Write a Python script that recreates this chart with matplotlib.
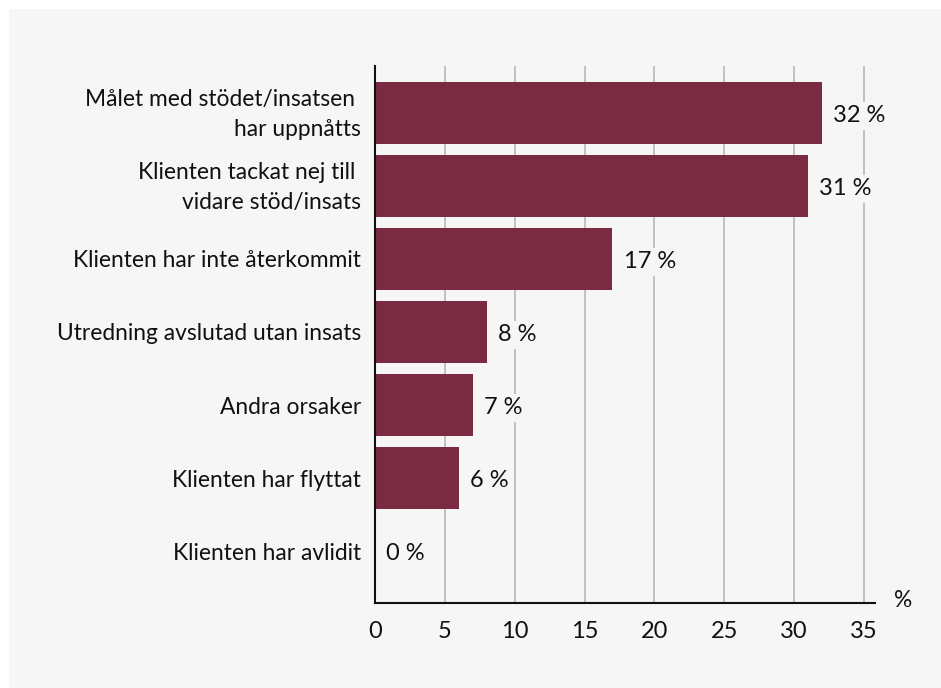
import matplotlib.pyplot as plt
from matplotlib.patches import Rectangle
from matplotlib.transforms import ScaledTranslation

plt.rcParams['font.family'] = ['Lato', 'DejaVu Sans']

categories = [
    "Målet med stödet/insatsen \nhar uppnåtts",
    "Klienten tackat nej till \nvidare stöd/insats",
    "Klienten har inte återkommit",
    "Utredning avslutad utan insats",
    "Andra orsaker",
    "Klienten har flyttat",
    "Klienten har avlidit",
]
values = [32, 31, 17, 8, 7, 6, 0]
value_labels = ["32 %", "31 %", "17 %", "8 %", "7 %", "6 %", "0 %"]
xticks = [0, 5, 10, 15, 20, 25, 30, 35]

bg = "#f6f6f6"
bar_color = "#7b2b41"
fs = 16.4

fig = plt.figure(figsize=(9.41, 6.88), dpi=100)
fig.patch.set_facecolor("white")
fig.patches.append(Rectangle((9 / 941, 0), 1, 1 - 9 / 688, transform=fig.transFigure,
                             facecolor=bg, edgecolor="none", zorder=-10))

ax = fig.add_axes([0.3985, 0.1235, 0.5315, 0.7805])
ax.set_facecolor(bg)
ax.patch.set_alpha(0)

pos = list(range(len(categories)))
ax.barh(pos, values, height=0.85, color=bar_color, zorder=2)

for p, v, lab in zip(pos, values, value_labels):
    ax.annotate(lab, (v, p), xytext=(8, -2), textcoords="offset points",
                va="center", ha="left", fontsize=17, color="#111111", zorder=4,
                bbox=dict(boxstyle="square,pad=0.15", facecolor=bg, edgecolor="none"))

ax.set_xlim(0, 35.8)
ax.set_ylim(6.71, -0.64)
ax.set_yticks(pos)
ax.set_yticklabels(categories, fontsize=fs, linespacing=1.55, color="#111111")
ax.set_xticks(xticks)
ax.set_xticklabels([str(t) for t in xticks], fontsize=17, color="#111111")
ax.tick_params(axis="y", length=0, pad=10)
ax.tick_params(axis="x", length=0, pad=13)

# two-line labels sit a little above the bar centre
for lbl in ax.get_yticklabels():
    if "\n" in lbl.get_text():
        lbl.set_transform(lbl.get_transform() + ScaledTranslation(0, 5 / 100, fig.dpi_scale_trans))

for t in xticks[1:]:
    ax.axvline(t, color="#b8b8b8", lw=1.2, zorder=1)

for s in ["top", "right"]:
    ax.spines[s].set_visible(False)
for s in ["left", "bottom"]:
    ax.spines[s].set_linewidth(1.5)
    ax.spines[s].set_color("#111111")

ax.text(1.055, 0.005, "%", transform=ax.transAxes, fontsize=fs, ha="center", va="center",
        color="#111111")

fig.savefig("out.png", dpi=100, facecolor=fig.get_facecolor())
